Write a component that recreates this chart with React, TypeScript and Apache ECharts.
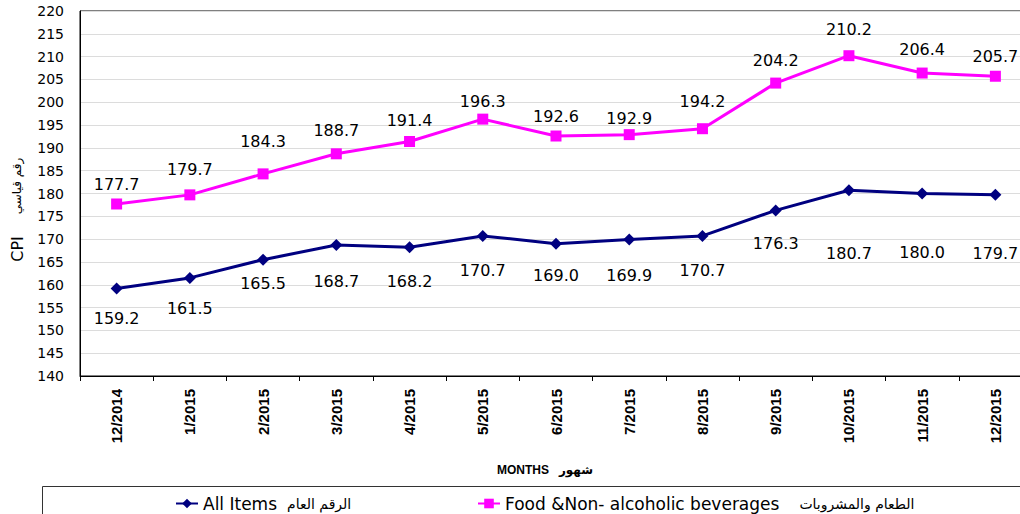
import React, { useEffect, useRef } from "react";
import * as echarts from "echarts";

const months = ["12/2014", "1/2015", "2/2015", "3/2015", "4/2015", "5/2015", "6/2015", "7/2015", "8/2015", "9/2015", "10/2015", "11/2015", "12/2015"];
const allItems = [159.2, 161.5, 165.5, 168.7, 168.2, 170.7, 169.0, 169.9, 170.7, 176.3, 180.7, 180.0, 179.7];
const foodBev = [177.7, 179.7, 184.3, 188.7, 191.4, 196.3, 192.6, 192.9, 194.2, 204.2, 210.2, 206.4, 205.7];
const allItemsEn = "All Items";
const allItemsAr = "الرقم العام";
const foodEn = "Food &Non- alcoholic beverages";
const foodAr = "الطعام والمشروبات";
const allItemsName = `${allItemsEn} ${allItemsAr}`;
const foodName = `${foodEn} ${foodAr}`;
const allLabelGap = [16, 17, 10, 22, 20, 21, 18, 22, 21, 19, 49, 45, 45];
const foodLabelGap = [6, 12, 19, 10, 7, 4, 6, 3, 14, 9, 13, 10, 6];

const FONT = "'Liberation Sans', Arial, 'DejaVu Sans', sans-serif";
const WIDE = "'DejaVu Sans', 'Liberation Sans', sans-serif";

const legendRich = {
  en: { fontFamily: WIDE, fontSize: 17, color: "#000" },
  ar: { fontFamily: WIDE, fontSize: 14, color: "#000" },
  sp: { fontFamily: WIDE, fontSize: 14, width: 10 },
};

export default function App() {
  const ref = useRef<HTMLDivElement>(null);
  useEffect(() => {
    if (!ref.current) return;
    const chart = echarts.init(ref.current, undefined, { renderer: "svg" });
    chart.setOption({
      animation: false,
      backgroundColor: "#ffffff",
      textStyle: { fontFamily: WIDE },
      grid: {
        left: 80,
        top: 11,
        width: 952,
        height: 365,
        show: true,
        borderColor: "#000",
        borderWidth: 1,
        containLabel: false,
        outerBoundsMode: "none",
      },
      legend: [
        {
          data: [allItemsName],
          left: 170,
          top: 490,
          itemWidth: 22,
          itemHeight: 12,
          formatter: () => `{en|${allItemsEn}}{sp| }{ar|${allItemsAr}}`,
          textStyle: { fontFamily: WIDE, fontSize: 17, color: "#000", rich: legendRich },
        },
        {
          data: [foodName],
          left: 472,
          top: 490,
          itemWidth: 22,
          itemHeight: 12,
          formatter: () => `{en|${foodEn}}{sp| }{sp| }{ar|${foodAr}}`,
          textStyle: { fontFamily: WIDE, fontSize: 17, color: "#000", rich: legendRich },
        },
      ],
      xAxis: {
        type: "category",
        data: months,
        boundaryGap: true,
        axisLine: { lineStyle: { color: "#000", width: 1 } },
        axisTick: { show: true, length: 5, lineStyle: { color: "#000" } },
        axisLabel: { rotate: 90, fontWeight: "bold", fontSize: 15, color: "#000", margin: 13, fontFamily: FONT },
        splitLine: { show: false },
      },
      yAxis: {
        type: "value",
        min: 140,
        max: 220,
        interval: 5,
        axisLine: { show: true, lineStyle: { color: "#000" } },
        axisTick: { show: false },
        axisLabel: { fontSize: 14, color: "#000", margin: 16, fontFamily: WIDE },
        splitLine: { lineStyle: { color: "#dcdcdc", width: 1 } },
      },
      series: [
        {
          name: allItemsName,
          type: "line",
          data: allItems.map((v, i) => ({
            value: v,
            label: { distance: allLabelGap[i] },
          })),
          color: "#000080",
          lineStyle: { color: "#000080", width: 3 },
          symbol: "diamond",
          symbolSize: 12,
          itemStyle: { color: "#000080" },
          label: {
            show: true,
            position: "bottom",
            fontSize: 16,
            color: "#000",
            fontFamily: WIDE,
            formatter: (p: any) => Number(p.value).toFixed(1),
          },
          z: 3,
        },
        {
          name: foodName,
          type: "line",
          data: foodBev.map((v, i) => ({
            value: v,
            label: { distance: foodLabelGap[i] },
          })),
          color: "#ff00ff",
          lineStyle: { color: "#ff00ff", width: 3 },
          symbol: "rect",
          symbolSize: 11,
          itemStyle: { color: "#ff00ff" },
          label: {
            show: true,
            position: "top",
            fontSize: 16,
            color: "#000",
            fontFamily: WIDE,
            formatter: (p: any) => Number(p.value).toFixed(1),
          },
          z: 3,
        },
      ],
      graphic: [
        {
          type: "rect",
          shape: { x: 42.5, y: 486.5, width: 1000, height: 60 },
          style: { fill: "none", stroke: "#333", lineWidth: 1 },
          silent: true,
        },
        {
          type: "text",
          x: 545,
          y: 470,
          style: {
            text: "MONTHS   شهور",
            font: `bold 12px ${FONT}`,
            fill: "#000",
            align: "center",
            verticalAlign: "middle",
          },
        },
        {
          type: "text",
          x: 17,
          y: 249,
          rotation: Math.PI / 2,
          style: {
            text: "CPI",
            font: `16px ${WIDE}`,
            fill: "#000",
            align: "center",
            verticalAlign: "middle",
          },
        },
        {
          type: "text",
          x: 17,
          y: 186,
          rotation: Math.PI / 2,
          style: {
            text: "رقم قياسي",
            font: `12px ${WIDE}`,
            fill: "#000",
            align: "center",
            verticalAlign: "middle",
          },
        },
      ],
    });
    return () => chart.dispose();
  }, []);
  return <div ref={ref} style={{ position: "fixed", left: 0, top: 0, width: 1020, height: 514 }} />;
}
